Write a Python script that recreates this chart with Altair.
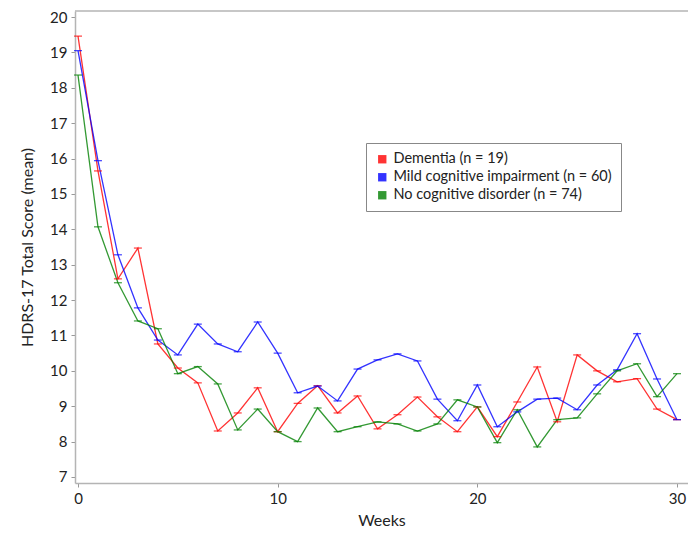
import altair as alt
import pandas as pd

weeks = list(range(31))
dementia = [19.46, 15.65, 12.6, 13.47, 10.76, 10.08, 9.66, 8.3, 8.81, 9.52, 8.28,
            9.08, 9.58, 8.81, 9.29, 8.36, 8.76, 9.26, 8.7, 8.28, 8.98,
            8.14, 9.12, 10.11, 8.56, 10.45, 10.0, 9.69, 9.78, 8.92, 8.62]
mci = [19.05, 15.94, 13.28, 11.78, 10.87, 10.45, 11.32, 10.76, 10.54, 11.38, 10.5,
       9.38, 9.57, 9.15, 10.05, 10.31, 10.48, 10.28, 9.2, 8.59, 9.6,
       8.42, 8.84, 9.2, 9.23, 8.9, 9.6, 10.03, 11.05, 9.77, 8.62]
ncd = [18.36, 14.07, 12.49, 11.41, 11.19, 9.92, 10.12, 9.63, 8.33, 8.92, 8.28,
       8.0, 8.95, 8.28, 8.42, 8.56, 8.5, 8.3, 8.5, 9.18, 8.98,
       7.97, 8.9, 7.85, 8.62, 8.67, 9.35, 10.0, 10.2, 9.27, 9.92]

groups = ["Dementia (n = 19)", "Mild cognitive impairment (n = 60)", "No cognitive disorder (n = 74)"]
colors = ["#ff0000", "#0000ff", "#008000"]

rows = []
for g, vals in zip(groups, [dementia, mci, ncd]):
    for w, v in zip(weeks, vals):
        rows.append({"Weeks": w, "Score": v, "Group": g})
df = pd.DataFrame(rows)

W, H = 613, 472
font = "Lato"
frame = "#b4b4b4"
x = alt.X("Weeks:Q", scale=alt.Scale(domain=[-0.15, 30.55], nice=False, zero=False),
          axis=alt.Axis(values=[0, 10, 20, 30], title="Weeks", grid=False, domain=True,
                        domainColor=frame, domainWidth=1.5,
                        tickColor="#999999", tickSize=4, labelFontSize=15, titleFontSize=16,
                        labelFont=font, titleFont=font, labelColor="#222222", titleColor="#222222",
                        titleFontWeight="normal", titlePadding=6, labelPadding=4))
y = alt.Y("Score:Q", scale=alt.Scale(domain=[6.83, 20.17], nice=False, zero=False),
          axis=alt.Axis(values=list(range(7, 21)), title="HDRS-17 Total Score (mean)", grid=False,
                        domain=True, domainColor=frame, domainWidth=1.5,
                        tickColor="#999999", tickSize=4, labelFontSize=15,
                        titleFontSize=16, labelFont=font, titleFont=font, labelColor="#222222",
                        titleColor="#222222", titleFontWeight="normal", titlePadding=14,
                        labelPadding=4))
color = alt.Color("Group:N", scale=alt.Scale(domain=groups, range=colors),
                  legend=alt.Legend(title=None, orient="none", legendX=291, legendY=132,
                                    symbolType="square", symbolSize=70, labelFontSize=14.5,
                                    labelFont=font, labelColor="#222222",
                                    strokeColor="#888888", padding=9, rowPadding=3,
                                    symbolStrokeWidth=0, labelLimit=400))

base = alt.Chart(df)
lines = base.mark_line(strokeWidth=1.3, opacity=0.8).encode(x=x, y=y, color=color)
ticks = base.mark_tick(orient="horizontal", size=8, thickness=1.3).encode(x=x, y=y, color=color)
top = alt.Chart(pd.DataFrame({"a": [0]})).mark_rule(color=frame, strokeWidth=1.5).encode(
    x=alt.value(0), x2=alt.value(W), y=alt.value(0))

chart = (top + lines + ticks).properties(
    width=W, height=H,
    padding={"left": 67, "top": 3, "right": 0, "bottom": 47},
    autosize=alt.AutoSizeParams(type="none"),
).configure_view(stroke=None)

chart.save("out.html", embed_options={"renderer": "svg", "actions": False})
